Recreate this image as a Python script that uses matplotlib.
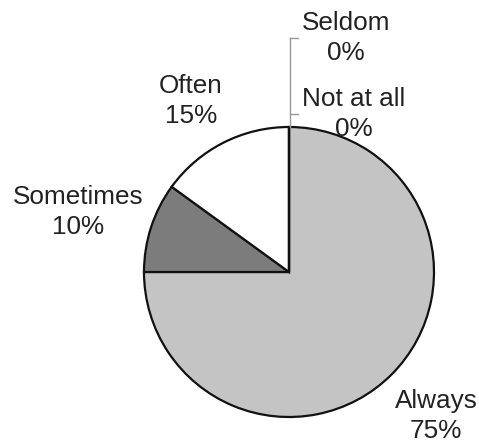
import matplotlib.pyplot as plt

labels = ["Always", "Sometimes", "Often", "Seldom", "Not at all"]
values = [75, 10, 15, 0, 0]
colors = ["#c4c4c4", "#7c7c7c", "#ffffff", "#ffffff", "#ffffff"]

# label positions in figure pixels (x, y from top)
label_pos = {
    "Always": (436, 416),
    "Sometimes": (78, 212),
    "Often": (191, 101),
    "Seldom": (346, 38),
    "Not at all": (354, 114),
}

W, H = 479, 443
fig = plt.figure(figsize=(W / 100, H / 100), dpi=100)
ax = fig.add_axes([0, 0, 1, 1])

cx, cy, r = 289, H - 272, 145
ax.pie(values, startangle=90, counterclock=False, colors=colors,
       center=(cx, cy), radius=r,
       wedgeprops=dict(edgecolor="#111111", linewidth=1.6))

ax.set_xlim(0, W)
ax.set_ylim(0, H)
ax.set_aspect("equal")
ax.axis("off")

for lab, v in zip(labels, values):
    px, py = label_pos[lab]
    ax.text(px, H - py, f"{lab}\n{v}%", ha="center", va="center",
            fontsize=18.8, family="Liberation Sans", color="#222222",
            linespacing=1.3)

# leader lines for the two empty categories
top = cy + r
ax.plot([290, 290], [top, H - 38], color="#999999", lw=1)
ax.plot([290, 298], [H - 38, H - 38], color="#999999", lw=1)
ax.plot([290, 298], [H - 114, H - 114], color="#999999", lw=1)

fig.savefig("out.png", dpi=100)
